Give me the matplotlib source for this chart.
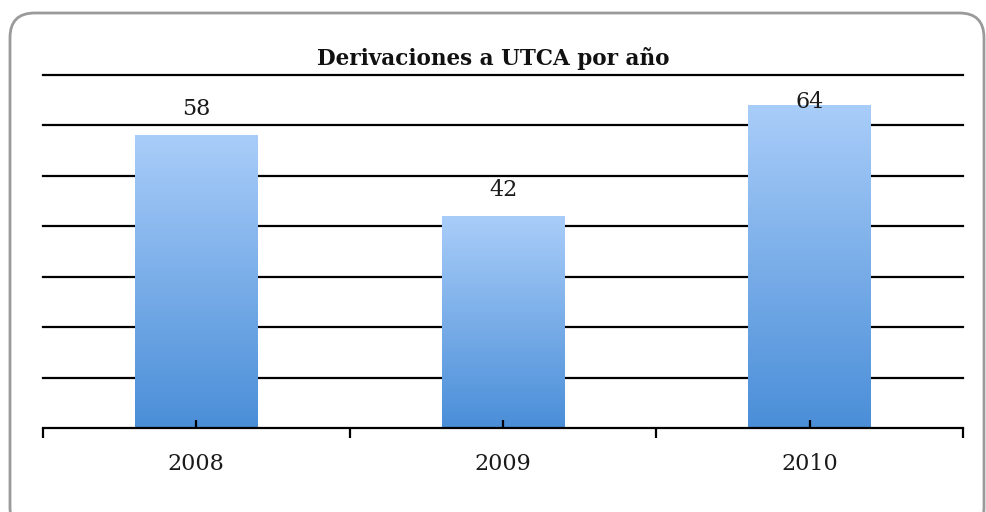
import matplotlib
matplotlib.use("Agg")
import matplotlib.pyplot as plt
import numpy as np
from matplotlib.patches import FancyBboxPatch
from matplotlib.colors import LinearSegmentedColormap

categories = ["2008", "2009", "2010"]
values = [58, 42, 64]
title = "Derivaciones a UTCA por año"

fig = plt.figure(figsize=(9.86, 5.12), dpi=100)
fig.patch.set_facecolor("white")

# rounded border
border = FancyBboxPatch((10/986, -20/512), 974/986, 519/512,
                        boxstyle="round,pad=0,rounding_size=0.025",
                        transform=fig.transFigure, facecolor="none",
                        edgecolor="#9a9a9a", linewidth=2.0, mutation_aspect=986/512)
fig.patches.append(border)

ax = fig.add_axes([43/986, 1-428/512, (963-43)/986, (428-75)/512])
ax.set_axisbelow(False)
x = np.arange(len(categories))

for y in range(10, 71, 10):
    ax.axhline(y, color="black", lw=1.6, zorder=1, clip_on=False)

bars = ax.bar(x, values, width=0.4, color="none", edgecolor="none", zorder=2)
cmap = LinearSegmentedColormap.from_list("g", ["#4a8ed8", "#a9cdf9"])
grad = np.linspace(0, 1, 256).reshape(-1, 1)
for b in bars:
    bx, bw, bh = b.get_x(), b.get_width(), b.get_height()
    ax.imshow(grad, cmap=cmap, origin="lower", aspect="auto",
              extent=(bx, bx+bw, 0, bh), zorder=2)
ax.set_xlim(-0.5, len(categories)-0.5)
ax.set_ylim(0, 70)

for xi, v in zip(x, values):
    ax.text(xi, min(v + 4, 63.5), str(v), ha="center", va="baseline",
            fontsize=16, family="DejaVu Serif", color="#1a1a1a", zorder=3)

for s in ["left", "right", "top"]:
    ax.spines[s].set_visible(False)
ax.spines["bottom"].set_linewidth(1.6)
ax.spines["bottom"].set_zorder(4)
ax.set_yticks([])
ax.set_xticks(x)
ax.set_xticklabels(categories, family="DejaVu Serif", fontsize=16, color="#1a1a1a")
ax.tick_params(axis="x", which="major", direction="in", length=6, width=1.6, pad=18)
ax.set_xticks(np.arange(-0.5, len(categories), 1.0), minor=True)
ax.tick_params(axis="x", which="minor", direction="out", length=7, width=1.6)

fig.text(0.5, 1-58/512, title, ha="center", va="center", fontsize=15.5,
         family="DejaVu Serif", fontweight="bold", color="#111111")

fig.savefig("out.png", dpi=100)
